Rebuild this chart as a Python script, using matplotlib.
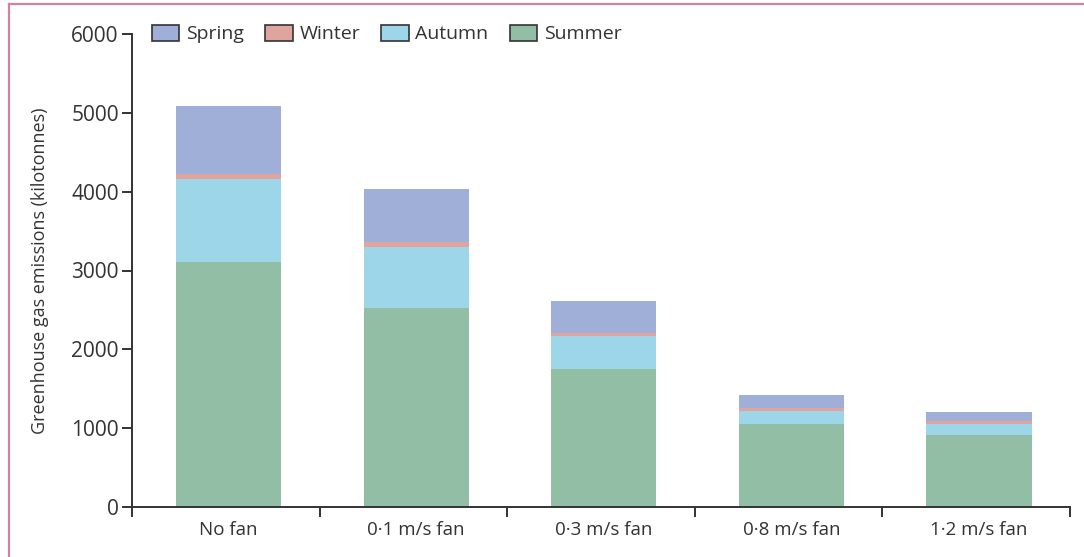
import matplotlib
matplotlib.use("Agg")
import matplotlib.pyplot as plt
from matplotlib.patches import Patch
from matplotlib.lines import Line2D
import numpy as np

categories = ["No fan", "0·1 m/s fan", "0·3 m/s fan", "0·8 m/s fan", "1·2 m/s fan"]
summer = [3110, 2525, 1750, 1057, 917]
autumn = [1055, 778, 420, 165, 140]
winter = [60, 60, 35, 34, 30]
spring = [862, 667, 412, 165, 114]
yticks = [0, 1000, 2000, 3000, 4000, 5000, 6000]

colors = {
    "Spring": "#a0afd8",
    "Winter": "#e0a49e",
    "Autumn": "#9dd6e8",
    "Summer": "#93bea6",
}
ink = "#333333"

plt.rcParams["font.family"] = ["Open Sans", "DejaVu Sans"]
plt.rcParams["text.color"] = ink

fig = plt.figure(figsize=(10.84, 5.57), dpi=100)
ax = fig.add_axes([132 / 1084, 1 - 507 / 557, (1070 - 132) / 1084, (507 - 34) / 557])

x = np.arange(len(categories))
width = 0.56
bottom = np.zeros(len(categories))
for name, vals in [("Summer", summer), ("Autumn", autumn), ("Winter", winter), ("Spring", spring)]:
    ax.bar(x + 0.015, vals, width, bottom=bottom, color=colors[name], edgecolor="none", zorder=2)
    bottom += np.array(vals)

ax.set_xlim(-0.5, len(categories) - 0.5)
ax.set_ylim(0, 6000)

for s in ["top", "right"]:
    ax.spines[s].set_visible(False)
for s in ["left", "bottom"]:
    ax.spines[s].set_color(ink)
    ax.spines[s].set_linewidth(1.4)
    ax.spines[s].set_zorder(3)

ax.set_yticks(yticks)
ax.set_yticklabels([str(v) for v in yticks])
ax.tick_params(axis="y", direction="out", length=7.5, width=1.4, color=ink,
               labelsize=15, labelcolor=ink, pad=2)

# category boundaries carry the ticks; names sit between them
ax.set_xticks(np.arange(-0.5, len(categories), 1.0))
ax.set_xticklabels([])
ax.set_xticks(x + 0.015, minor=True)
ax.set_xticklabels(categories, minor=True)
ax.tick_params(axis="x", which="major", direction="out", length=7.5, width=1.4, color=ink)
ax.tick_params(axis="x", which="minor", length=0, labelsize=13.5, labelcolor=ink, pad=10)

ax.set_ylabel("Greenhouse gas emissions (kilotonnes)", fontsize=13, color=ink, labelpad=16)

handles = [Patch(facecolor=colors[n], edgecolor=ink, linewidth=1.2, label=n)
           for n in ["Spring", "Winter", "Autumn", "Summer"]]
fig.legend(handles=handles, loc="center left", bbox_to_anchor=(152 / 1084, 1 - 34 / 557),
           ncol=4, frameon=False, fontsize=14, handlelength=1.4, handleheight=0.9,
           handletextpad=0.35, columnspacing=1.1, borderpad=0, borderaxespad=0)

# page frame lines along the top and left edges
frame = "#d6809f"
fig.add_artist(Line2D([8.5 / 1084, 1], [1 - 3.5 / 557, 1 - 3.5 / 557], color=frame, lw=1.6,
                      transform=fig.transFigure))
fig.add_artist(Line2D([8.5 / 1084, 8.5 / 1084], [0, 1 - 3.5 / 557], color=frame, lw=1.6,
                      transform=fig.transFigure))

fig.savefig("out.png", dpi=100, facecolor="white")
